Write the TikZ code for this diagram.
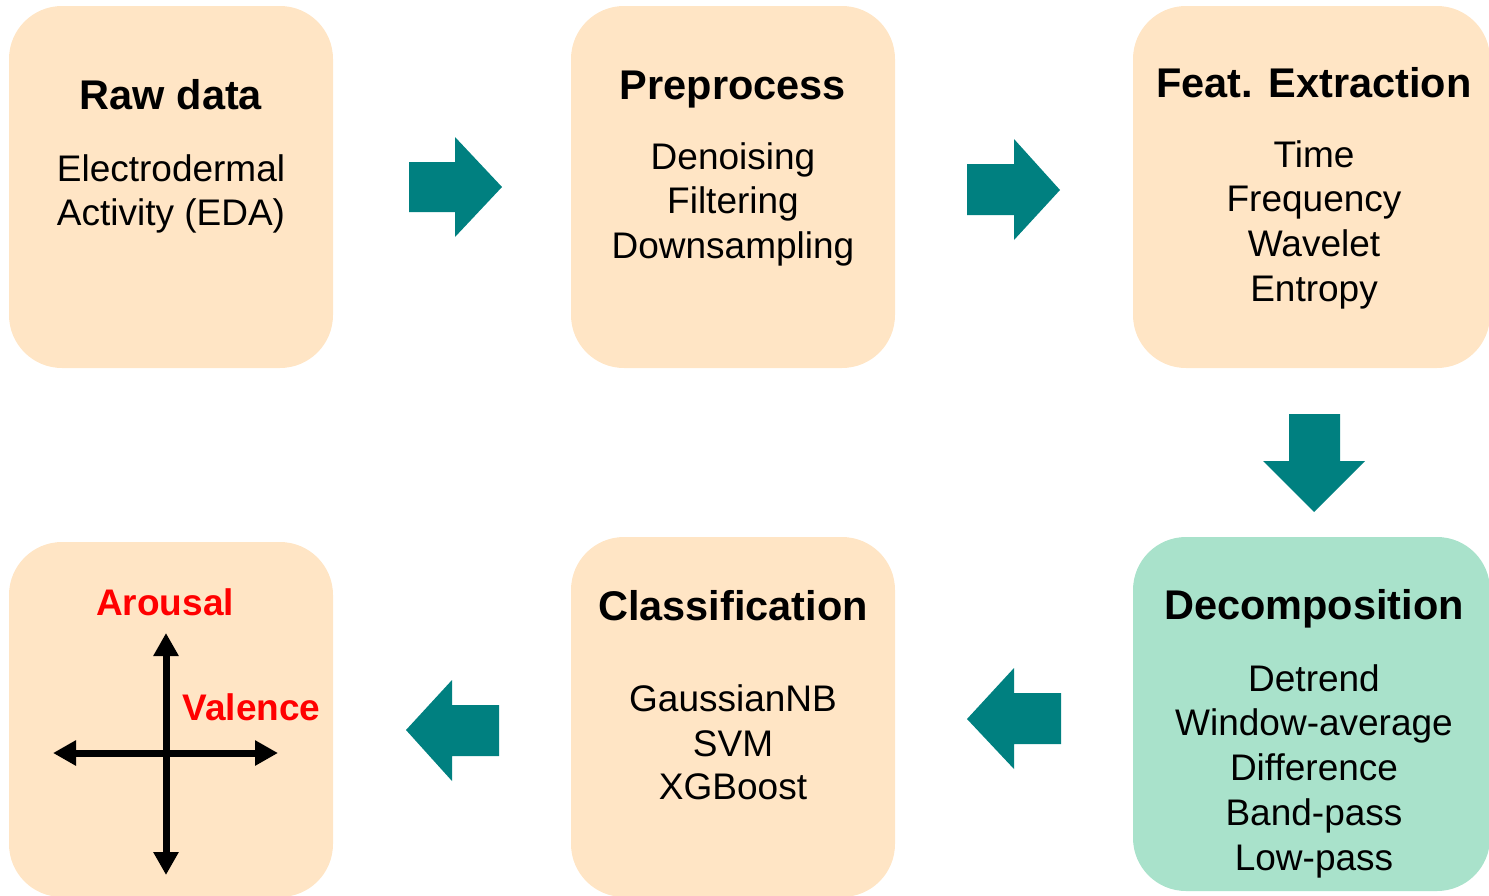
\documentclass[tikz,border=0pt]{standalone}
\usepackage{fontspec}
\setmainfont{Liberation Sans}
\usetikzlibrary{arrows.meta}
\definecolor{peach}{HTML}{FFE5C5}
\definecolor{mint}{HTML}{A9E2CB}
\definecolor{tealc}{HTML}{008080}
\definecolor{redc}{HTML}{FF0000}
\tikzset{
  stagebox/.style={rounded corners=53pt, fill=peach, draw=none, inner sep=0pt, minimum width=324pt, minimum height=362pt},
  titletext/.style={anchor=base, inner sep=0pt, font=\fontsize{41.5}{50}\selectfont\bfseries},
  bodytext/.style={anchor=base, inner sep=0pt, font=\fontsize{37}{44.5}\selectfont},
  redtext/.style={anchor=base, inner sep=0pt, text=redc, font=\fontsize{37}{44}\selectfont\bfseries},
  blockarrow/.style={fill=tealc, draw=none},
  axisline/.style={line width=7pt, {Triangle[length=23pt,width=24pt]}-{Triangle[length=23pt,width=24pt]}}
}
\begin{document}
\begin{tikzpicture}[x=1pt, y=-1pt]
\useasboundingbox (0,0) rectangle (1489,895);
\clip (0,0) rectangle (1489,895);
% boxes
\node[stagebox] (raw) at (171,187) {};
\node[stagebox] (pre) at (733,187) {};
\node[stagebox, minimum width=357pt] (feat) at (1311.5,187) {};
\node[stagebox, fill=mint, minimum width=357pt, minimum height=354pt] (dec) at (1311.5,714) {};
\node[stagebox, minimum height=360pt] (cls) at (733,717) {};
\node[stagebox, minimum height=355pt] (out) at (171,719.5) {};
% texts
\node[titletext] (rawt) at (171,109) {Raw data};
\node[bodytext] (raw1) at (171,181) {Electrodermal};
\node[bodytext] (raw2) at (171,225) {Activity (EDA)};
\node[titletext] (pret) at (733,99) {Preprocess};
\node[bodytext] (pre1) at (733,169) {Denoising};
\node[bodytext] (pre2) at (733,213) {Filtering};
\node[bodytext] (pre3) at (733,258) {Downsampling};
\node[titletext] (featt) at (1314,97) {Feat. Extraction};
\node[bodytext] (feat1) at (1314,167) {Time};
\node[bodytext] (feat2) at (1314,211) {Frequency};
\node[bodytext] (feat3) at (1314,256) {Wavelet};
\node[bodytext] (feat4) at (1314,301) {Entropy};
\node[titletext] (dect) at (1314,619) {Decomposition};
\node[bodytext] (dec1) at (1314,691) {Detrend};
\node[bodytext] (dec2) at (1314,735) {Window-average};
\node[bodytext] (dec3) at (1314,780) {Difference};
\node[bodytext] (dec4) at (1314,825) {Band-pass};
\node[bodytext] (dec5) at (1314,870) {Low-pass};
\node[titletext] (clst) at (733,620) {Classification};
\node[bodytext] (cls1) at (733,711) {GaussianNB};
\node[bodytext] (cls2) at (733,756) {SVM};
\node[bodytext] (cls3) at (733,799) {XGBoost};
\node[redtext] (arousal) at (165,615) {Arousal};
\node[redtext] (valence) at (251.5,720) {Valence};
% cross
\coordinate (vtop) at (166,633);
\coordinate (vbot) at (166,875);
\coordinate (hleft) at (53,753);
\coordinate (hright) at (278,753);
\draw[axisline] (vbot) -- (vtop);
\draw[axisline] (hleft) -- (hright);
% block arrows
\fill[blockarrow] (409,162) -- (455,162) -- (455,137) -- (502,187) -- (455,237) -- (455,212) -- (409,212) -- cycle;
\fill[blockarrow] (967,164) -- (1014,164) -- (1014,139) -- (1060,190) -- (1014,240) -- (1014,215) -- (967,215) -- cycle;
\fill[blockarrow] (1289,414) -- (1340,414) -- (1340,461) -- (1365,461) -- (1314,512) -- (1263,461) -- (1289,461) -- cycle;
\fill[blockarrow] (1061,693) -- (1014,693) -- (1014,668) -- (967,719) -- (1014,769) -- (1014,744) -- (1061,744) -- cycle;
\fill[blockarrow] (499,705) -- (452,705) -- (452,680) -- (406,730) -- (452,781) -- (452,756) -- (499,756) -- cycle;
\end{tikzpicture}
\end{document}
